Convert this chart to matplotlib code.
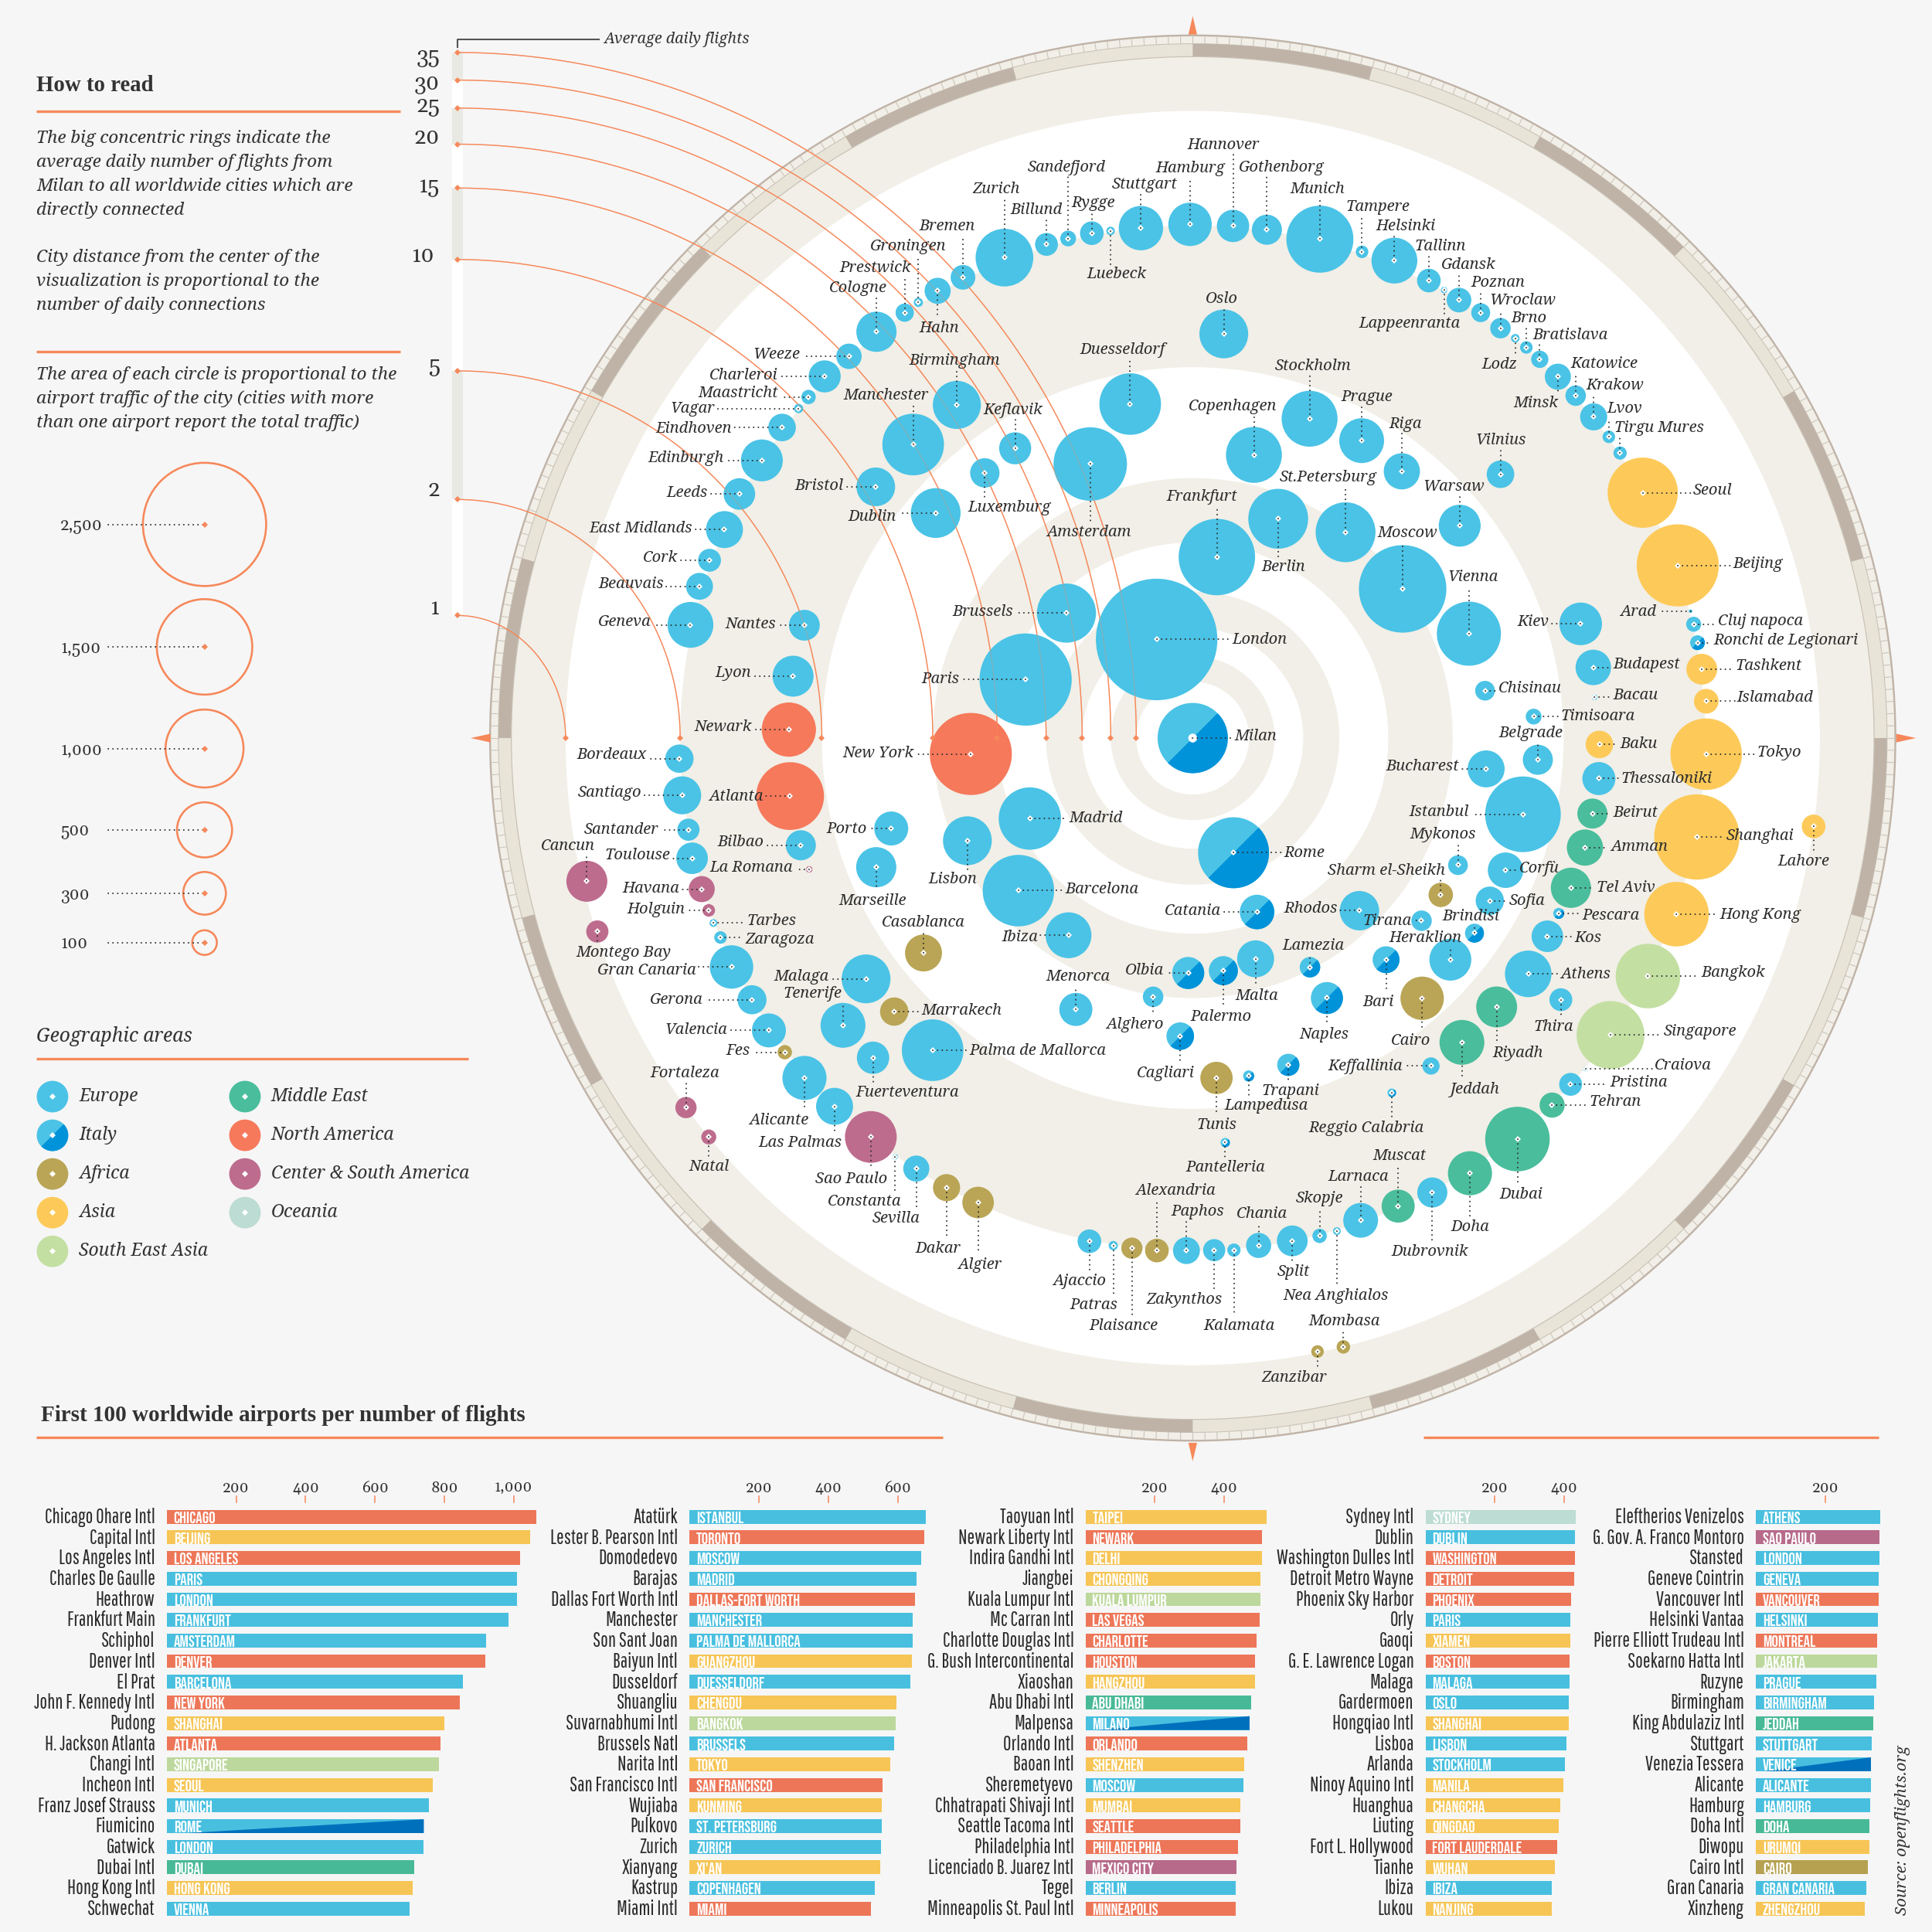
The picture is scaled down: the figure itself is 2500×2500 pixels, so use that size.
import numpy as np
import matplotlib
matplotlib.use("Agg")
import matplotlib.pyplot as plt
from matplotlib.patches import Circle, Wedge, Polygon, Rectangle
from matplotlib.collections import LineCollection

# ---- radial scale: average daily flights from Milan
flight_ticks = [1, 2, 5, 10, 15, 20, 25, 30, 35]
ring_radius = [509, 416, 301, 211, 158.7, 119, 89.7, 66.5, 45.8]

# ---- cities: bearing (deg clockwise from north), daily flights, airport traffic
europe_outer = ["Geneva","Beauvais","Cork","East Midlands","Leeds","Edinburgh","Eindhoven","Vagar","Maastricht","Charleroi","Weeze","Cologne","Prestwick","Groningen","Hahn","Bremen","Zurich","Billund","Sandefjord","Rygge","Luebeck","Stuttgart","Hamburg","Hannover","Gothenborg","Munich","Tampere","Helsinki","Tallinn","Lappeenranta","Gdansk","Poznan","Wroclaw","Lodz","Brno","Bratislava","Minsk","Katowice","Krakow","Lvov","Tirgu Mures","Arad","Cluj napoca","Craiova","Pristina","Dubrovnik","Larnaca","Nea Anghialos","Skopje","Split","Chania","Kalamata","Zakynthos","Paphos","Patras","Ajaccio","Sevilla","Constanta","Las Palmas","Alicante","Valencia","Gerona","Gran Canaria","Zaragoza","Tarbes","Toulouse","Santander","Santiago","Bordeaux"]
europe_outer_bearing = [282.7,287.1,290.2,294.0,298.3,302.8,307.1,309.9,311.6,314.5,318.0,322.1,325.9,327.8,330.3,333.5,338.6,343.5,346.0,348.7,350.8,354.2,359.7,4.5,8.3,14.3,19.2,22.9,27.3,29.3,31.3,34.1,36.9,38.9,40.5,42.5,45.3,48.2,51.3,54.1,56.3,75.7,77.2,130.1,132.5,152.2,160.8,163.7,165.7,168.8,172.6,175.4,177.6,180.7,188.9,191.6,212.7,215.4,224.2,228.8,235.4,239.3,243.6,247.1,248.9,256.5,259.7,263.6,267.7]
europe_outer_flights = [1.98,1.97,1.98,2.0,1.98,2.0,1.98,1.99,1.99,1.97,1.99,1.98,1.99,1.98,1.98,1.98,1.97,1.98,1.98,1.98,1.99,2.0,1.99,1.99,1.99,1.98,1.98,1.95,1.98,1.99,2.0,1.99,2.0,1.99,1.99,1.99,1.99,1.99,1.99,1.99,1.99,1.99,1.99,1.99,2.0,1.99,2.04,1.99,1.99,2.0,2.02,1.99,2.0,2.0,1.99,1.99,2.02,1.99,1.99,1.97,1.98,2.0,1.98,2.0,1.99,1.98,2.0,1.99,1.99]
europe_outer_traffic = [346,119,86,225,164,289,125,14,34,169,106,266,55,14,112,100,548,86,41,92,12,324,310,172,149,740,26,346,92,7,100,59,69,12,26,49,112,69,121,26,29,2,37,4,86,149,199,10,34,156,104,29,81,119,14,92,112,5,225,320,190,139,310,26,10,164,81,237,132]

europe_inner = ["Oslo","Duesseldorf","Amsterdam","Birmingham","Manchester","Keflavik","Luxemburg","Bristol","Dublin","Brussels","Paris","London","Nantes","Lyon","Bilbao","Porto","Marseille","Malaga","Tenerife","Fuerteventura","Palma de Mallorca","Lisbon","Madrid","Barcelona","Ibiza","Menorca","Malta","Alghero","Rhodos","Keffallinia","Heraklion","Tirana","Mykonos","Sofia","Corfù","Istanbul","Bucharest","Belgrade","Timisoara","Chisinau","Kiev","Budapest","Bacau","Thessaloniki","Kos","Athens","Thira","Vilnius","Warsaw","Moscow","Vienna","St.Petersburg","Berlin","Frankfurt","Copenhagen","Stockholm","Prague","Riga"]
europe_inner_bearing = [4.4,349.4,339.5,324.7,316.4,328.5,321.9,308.4,311.2,314.7,289.3,339.9,286.2,278.8,254.7,253.3,247.8,233.6,230.6,225.0,219.8,245.5,243.7,228.8,212.2,203.3,164.1,188.7,136.0,144.0,130.7,128.6,115.6,118.7,112.9,103.0,96.0,93.6,86.4,80.8,73.6,80.0,84.2,95.7,119.2,125.1,125.4,49.4,51.5,54.6,69.3,36.6,21.3,7.6,12.2,20.1,29.6,38.1]
europe_inner_flights = [4.27,6.4,8.53,4.21,4.27,6.4,6.53,4.29,6.32,16.83,16.89,25.97,4.29,4.29,4.25,7.53,6.31,4.26,3.27,3.28,4.25,10.96,16.42,12.2,12.09,8.4,12.36,9.92,11.55,4.27,6.4,8.52,8.46,6.45,6.41,6.44,8.42,6.13,6.32,8.37,4.29,4.24,4.3,4.21,4.25,4.17,3.29,4.27,6.34,10.19,8.41,10.28,11.91,16.32,8.66,6.39,6.3,6.44]
europe_inner_traffic = [392,625,888,380,625,169,142,246,408,576,1399,2430,156,276,149,190,266,392,331,172,625,392,640,841,346,180,225,69,256,49,289,69,64,132,207,942,225,149,41,64,299,207,5,180,164,357,86,125,289,1260,676,590,590,961,515,515,331,216]

italy = ["Rome","Catania","Olbia","Palermo","Lamezia","Naples","Cagliari","Lampedusa","Trapani","Pantelleria","Reggio Calabria","Bari","Brindisi","Pescara","Ronchi de Legionari"]
italy_bearing = [160.4,159.7,181.1,172.5,152.9,152.7,182.4,170.6,163.7,175.4,150.7,138.9,124.7,115.6,79.3]
italy_flights = [23.45,16.03,11.94,11.97,10.2,8.53,8.27,6.28,6.37,4.26,4.24,8.46,6.27,4.26,1.99]
italy_traffic = [829,196,169,139,69,169,125,20,81,14,12,119,59,20,36]

africa = ["Casablanca","Marrakech","Fes","Dakar","Algier","Tunis","Cairo","Sharm el-Sheikh","Alexandria","Plaisance","Mombasa","Zanzibar"]
africa_bearing = [231.4,227.5,232.4,208.7,204.8,176.0,138.6,122.3,184.0,186.8,166.1,168.5]
africa_flights = [6.19,4.28,1.98,2.0,2.02,6.36,6.08,8.49,1.99,1.99,1.0,1.01]
africa_traffic = [225,132,34,121,164,172,310,98,92,74,30,26]

asia = ["Seoul","Beijing","Tashkent","Islamabad","Baku","Tokyo","Shanghai","Hong Kong","Lahore"]
asia_bearing = [61.4,70.4,82.3,85.9,90.9,91.8,101.1,110.0,98.1]
asia_flights = [2.0,1.98,1.99,1.98,4.24,1.99,1.99,1.98,1.0]
asia_traffic = [812,1109,156,100,125,841,1197,686,92]

se_asia = ["Bangkok","Singapore"]
se_asia_bearing = [117.6,125.4]
se_asia_flights = [1.99,2.0]
se_asia_traffic = [686,756]

middle_east = ["Beirut","Amman","Tel Aviv","Riyadh","Jeddah","Tehran","Dubai","Doha","Muscat"]
middle_east_bearing = [100.7,105.6,111.6,131.5,138.5,135.6,141.0,147.5,156.3]
middle_east_flights = [4.24,4.23,4.24,4.26,4.25,1.99,1.97,1.97,2.03]
middle_east_traffic = [149,216,266,276,331,104,686,320,180]

north_america = ["Newark","New York","Atlanta"]
north_america_bearing = [271.2,265.9,261.8]
north_america_flights = [4.3,12.91,4.24]
north_america_traffic = [484,1109,756]

south_america = ["Cancun","Montego Bay","Havana","Holguin","La Romana","Fortaleza","Natal","Sao Paulo"]
south_america_bearing = [256.7,252.0,252.9,250.4,251.1,233.9,230.5,218.9]
south_america_flights = [1.04,1.01,1.99,1.99,4.27,1.0,1.0,2.0]
south_america_traffic = [276,81,112,26,7,74,37,441]

milan_traffic = 812

# ---- where each city's name goes: side, leader length, shift across the leader
label_place = {
 "Geneva":("l",30,-2.5),"Beauvais":("l",27,-2.5),"Cork":("l",24,-2.5),"East Midlands":("l",24,-1),"Leeds":("l",24,-1),"Edinburgh":("l",29,-2.5),"Eindhoven":("l",39,0.5),"Vagar":("l",66,0),"Maastricht":("l",23,-3.5),"Charleroi":("l",36,-1),"Weeze":("l",38,-2),
 "Cologne":("t",28,-15),"Prestwick":("t",29,-24),"Groningen":("t",38,-8),"Hahn":("b",22,1),"Bremen":("t",34,-13),"Zurich":("t",48,-7),"Billund":("t",20,-8),"Sandefjord":("t",50,-1),"Rygge":("t",17,1),"Luebeck":("b",27,5),"Stuttgart":("t",28,3),"Hamburg":("t",38,0),"Hannover":("t",58,-8),"Gothenborg":("t",43,12),"Munich":("t",33,-2),"Tampere":("t",29,13),"Helsinki":("t",20,9),"Tallinn":("t",20,9),"Lappeenranta":("b",19,-28),"Gdansk":("t",21,8),"Poznan":("t",17,14),"Wroclaw":("t",15,18),"Lodz":("b",13,-13),"Brno":("t",16,2),"Bratislava":("t",12,25),"Minsk":("b",13,-18),"Katowice":("t",18,23),"Krakow":("t",18,17),"Lvov":("t",15,13),"Tirgu Mures":("t",13,32),
 "Seoul":("r",39,-2),"Beijing":("r",43,-1.5),"Arad":("l",26,0),"Cluj napoca":("r",18,-3),"Ronchi de Legionari":("r",11,-2),"Tashkent":("r",25,-3),"Islamabad":("r",23,-3),"Budapest":("r",14,-2.5),"Kiev":("l",24,-2),"Bacau":("r",13,-2),"Chisinau":("r",9,-2),"Timisoara":("r",20,-0.5),
 "Vilnius":("t",20,0),"Warsaw":("t",24,-5),"Moscow":("t",38,4),"Vienna":("t",38,3),"St.Petersburg":("t",37,-14),"Berlin":("b",31,4),"Frankfurt":("t",41,-12),"Copenhagen":("t",32,-17),"Stockholm":("t",35,3),"Prague":("t",28,4),"Riga":("t",31,3),"Oslo":("t",21,-2),
 "Duesseldorf":("t",36,-6),"Amsterdam":("b",47,-1),"Birmingham":("t",28,-2),"Manchester":("t",32,-22),"Keflavik":("t",23,-2),"Luxemburg":("b",20,20),"Bristol":("l",24,-1),"Dublin":("l",30,2.5),"Brussels":("l",41,-1.5),"Paris":("l",52,-1),"London":("r",59,0),"Nantes":("l",21,-1),"Lyon":("l",32,-3),
 "Newark":("l",28,-2.5),"New York":("l",44,-1),"Bordeaux":("l",25,-3.5),"Santiago":("l",31,-2.5),"Atlanta":("l",20,0),"Santander":("l",22,-0.5),"Toulouse":("l",16,-3),"Bilbao":("l",28,-3),"La Romana":("l",11,-1.5),"Cancun":("t",21,-15),"Havana":("l",16,-1),"Holguin":("l",17,-1),"Tarbes":("r",25,-2),"Zaragoza":("r",18,1),"Montego Bay":("b",9,21),"Gran Canaria":("l",27,2.5),"Gerona":("l",38,-0.5),"Valencia":("l",32,-1),"Fes":("l",26,-1.5),"Alicante":("b",26,-21),"Fortaleza":("t",20,-1),"Natal":("b",16,0),"Las Palmas":("b",21,-28),"Sao Paulo":("b",26,-16),"Constanta":("b",28,-25),"Sevilla":("b",32,-16),"Dakar":("b",41,-7),"Algier":("b",42,1),"Ajaccio":("b",24,-8),"Patras":("b",40,-16),
 "Porto":("l",18,0),"Marseille":("b",19,-3),"Casablanca":("t",17,0),"Malaga":("l",28,-2),"Marrakech":("r",20,-1),"Tenerife":("t",18,-25),"Fuerteventura":("b",20,28),"Palma de Mallorca":("r",28,0),"Lisbon":("b",23,-12),"Madrid":("r",30,-0.5),"Barcelona":("r",36,-1.5),"Ibiza":("l",23,1),"Menorca":("t",19,2),
 "Milan":("r",32,-2),"Rome":("r",39,0),"Catania":("l",27,-1),"Rhodos":("l",16,-2),"Olbia":("l",18,-2.5),"Palermo":("b",29,-2),"Malta":("b",22,1),"Lamezia":("t",10,3),"Alghero":("b",14,-15),"Naples":("b",21,-2),"Cagliari":("b",22,-12),"Tunis":("b",30,0),"Lampedusa":("b",16,14),"Trapani":("b",13,2),"Pantelleria":("b",12,0),"Reggio Calabria":("b",20,-21),"Keffallinia":("l",21,0),"Jeddah":("b",30,10),"Cairo":("b",26,-9),"Bari":("b",26,-6),"Heraklion":("t",10,-20),"Brindisi":("t",6,-3),"Tirana":("l",6,0),"Sharm el-Sheikh":("t",12,-44),"Mykonos":("t",17,-12),"Sofia":("r",14,0),"Corfù":("r",9,-2),"Istanbul":("l",42,-2),"Bucharest":("l",20,-2.5),"Belgrade":("t",14,-6),"Baku":("r",15,-1),"Tokyo":("r",39,-2),"Thessaloniki":("r",16,0),"Beirut":("r",15,-1),"Shanghai":("r",22,-1),"Lahore":("b",20,-8),"Amman":("r",19,-1),"Tel Aviv":("r",19,-0.5),"Pescara":("r",17,1.5),"Hong Kong":("r",33,0),"Kos":("r",20,1),"Athens":("r",24,0),"Bangkok":("r",41,-3),"Thira":("b",14,-6),"Riyadh":("b",29,17),"Singapore":("r",41,-3),"Craiova":("r",54,-3),"Pristina":("r",30,-2),"Tehran":("r",28,-3),"Dubai":("b",37,3),"Doha":("b",35,0),"Dubrovnik":("b",40,-2),"Muscat":("t",33,1),"Larnaca":("t",28,-2),"Skopje":("t",23,0),"Nea Anghialos":("b",44,-1),"Split":("b",17,1),"Chania":("t",18,3),"Kalamata":("b",53,4),"Zakynthos":("b",32,-24),"Paphos":("t",24,9),"Alexandria":("t",41,15),"Plaisance":("b",55,-7),"Mombasa":("t",13,1),"Zanzibar":("b",13,-19),
}

# ---- how to read legend
size_values = [2500, 1500, 1000, 500, 300, 100]
size_labels = ["2,500", "1,500", "1,000", "500", "300", "100"]
size_y = [425.6, 525, 607.5, 673.5, 725, 765]
rail_y = [499.5, 405.4, 301, 210.6, 152.6, 117, 87.7, 65, 42.6]
rail_label_y = [494, 397.5, 297, 208, 151, 111.5, 86, 68, 46]

area_names = ["Europe", "Italy", "Africa", "Asia", "South East Asia", "Middle East", "North America", "Center & South America", "Oceania"]
area_codes = ["E", "I", "F", "A", "S", "M", "N", "C", "O"]

# ---- first 100 airports
airports_1 = ["Chicago Ohare Intl","Capital Intl","Los Angeles Intl","Charles De Gaulle","Heathrow","Frankfurt Main","Schiphol","Denver Intl","El Prat","John F. Kennedy Intl","Pudong","H. Jackson Atlanta","Changi Intl","Incheon Intl","Franz Josef Strauss","Fiumicino","Gatwick","Dubai Intl","Hong Kong Intl","Schwechat"]
cities_1 = ["CHICAGO","BEIJING","LOS ANGELES","PARIS","LONDON","FRANKFURT","AMSTERDAM","DENVER","BARCELONA","NEW YORK","SHANGHAI","ATLANTA","SINGAPORE","SEOUL","MUNICH","ROME","LONDON","DUBAI","HONG KONG","VIENNA"]
flights_1 = [1066,1047,1018,1009,1009,984,920,919,853,844,801,789,785,766,755,741,739,714,709,700]
regions_1 = "NANEEEENENANSAEIEMAE"

airports_2 = ["Atatürk","Lester B. Pearson Intl","Domodedevo","Barajas","Dallas Fort Worth Intl","Manchester","Son Sant Joan","Baiyun Intl","Dusseldorf","Shuangliu","Suvarnabhumi Intl","Brussels Natl","Narita Intl","San Francisco Intl","Wujiaba","Pulkovo","Zurich","Xianyang","Kastrup","Miami Intl"]
cities_2 = ["ISTANBUL","TORONTO","MOSCOW","MADRID","DALLAS-FORT WORTH","MANCHESTER","PALMA DE MALLORCA","GUANGZHOU","DUESSELDORF","CHENGDU","BANGKOK","BRUSSELS","TOKYO","SAN FRANCISCO","KUNMING","ST. PETERSBURG","ZURICH","XI'AN","COPENHAGEN","MIAMI"]
flights_2 = [681,677,668,654,649,642,642,640,636,597,594,590,578,556,554,553,551,549,533,522]
regions_2 = "ENEENEEAEASEANAEEAEN"

airports_3 = ["Taoyuan Intl","Newark Liberty Intl","Indira Gandhi Intl","Jiangbei","Kuala Lumpur Intl","Mc Carran Intl","Charlotte Douglas Intl","G. Bush Intercontinental","Xiaoshan","Abu Dhabi Intl","Malpensa","Orlando Intl","Baoan Intl","Sheremetyevo","Chhatrapati Shivaji Intl","Seattle Tacoma Intl","Philadelphia Intl","Licenciado B. Juarez Intl","Tegel","Minneapolis St. Paul Intl"]
cities_3 = ["TAIPEI","NEWARK","DELHI","CHONGQING","KUALA LUMPUR","LAS VEGAS","CHARLOTTE","HOUSTON","HANGZHOU","ABU DHABI","MILANO","ORLANDO","SHENZHEN","MOSCOW","MUMBAI","SEATTLE","PHILADELPHIA","MEXICO CITY","BERLIN","MINNEAPOLIS"]
flights_3 = [522,508,508,505,505,501,494,489,489,478,473,467,458,455,446,446,439,435,434,434]
regions_3 = "ANAASNNNAMINAEANNCEN"

airports_4 = ["Sydney Intl","Dublin","Washington Dulles Intl","Detroit Metro Wayne","Phoenix Sky Harbor","Orly","Gaoqi","G. E. Lawrence Logan","Malaga","Gardermoen","Hongqiao Intl","Lisboa","Arlanda","Ninoy Aquino Intl","Huanghua","Liuting","Fort L. Hollywood","Tianhe","Ibiza","Lukou"]
cities_4 = ["SYDNEY","DUBLIN","WASHINGTON","DETROIT","PHOENIX","PARIS","XIAMEN","BOSTON","MALAGA","OSLO","SHANGHAI","LISBON","STOCKHOLM","MANILA","CHANGCHA","QINGDAO","FORT LAUDERDALE","WUHAN","IBIZA","NANJING"]
flights_4 = [434,430,430,428,419,418,418,416,414,412,412,407,402,398,389,384,379,373,364,363]
regions_4 = "OENNNEANEEAEEAAANAEA"

airports_5 = ["Eleftherios Venizelos","G. Gov. A. Franco Montoro","Stansted","Geneve Cointrin","Vancouver Intl","Helsinki Vantaa","Pierre Elliott Trudeau Intl","Soekarno Hatta Intl","Ruzyne","Birmingham","King Abdulaziz Intl","Stuttgart","Venezia Tessera","Alicante","Hamburg","Doha Intl","Diwopu","Cairo Intl","Gran Canaria","Xinzheng"]
cities_5 = ["ATHENS","SAO PAULO","LONDON","GENEVA","VANCOUVER","HELSINKI","MONTREAL","JAKARTA","PRAGUE","BIRMINGHAM","JEDDAH","STUTTGART","VENICE","ALICANTE","HAMBURG","DOHA","URUMQI","CAIRO","GRAN CANARIA","ZHENGZHOU"]
flights_5 = [359,357,357,355,354,352,350,350,347,341,339,334,332,331,329,327,327,323,318,315]
regions_5 = "ECEENENSEEMEIEEMAFEA"

bar_ticks_1 = [200, 400, 600, 800, 1000]
bar_ticks_2 = [200, 400, 600]
bar_ticks_3 = [200, 400]
bar_ticks_4 = [200, 400]
bar_ticks_5 = [200]

# ---- styles
BG = "#f6f6f6"
BEIGE = "#f1efe7"
ORANGE = "#f6885a"
INK = "#333333"
DARK_ITALY = "#0093d9"
bubble_color = {"E":"#4ac3e6","I":"#4ac3e6","F":"#b9a555","A":"#fdca5a","S":"#c4dfa2","M":"#4abd9c","N":"#f6795b","C":"#bd6c8e","O":"#bddcd3"}
bar_color = {"E":"#48bfdf","I":"#48bfdf","F":"#b5a150","A":"#f6c555","S":"#bcd89c","M":"#48b996","N":"#ed7658","C":"#b76a8a","O":"#bddcd3"}
SERIF = ["Noto Serif", "Liberation Serif"]
HEAD = "Liberation Serif"
DIGITS = ["Gelasio", "Liberation Serif"]
NARROW = ["Pathway Gothic One", "Barlow Condensed", "DejaVu Sans"]
BARFONT = ["Bebas Neue", "Barlow Condensed", "DejaVu Sans"]
CX, CY = 968, 599
LABEL_FS = 5.8
DOTS = (0, (0.1, 3.1))

fig = plt.figure(figsize=(10, 10), dpi=250, facecolor=BG)
ax = fig.add_axes([0, 0, 1, 1])
ax.set_xlim(0, 1568)
ax.set_ylim(1568, 0)
ax.axis("off")


def radius_of(f):
    return np.interp(f, flight_ticks, ring_radius)


# ---- dial
ax.add_patch(Circle((CX, CY), 571, fc="#c0b3a7", ec="none", zorder=1))
ax.add_patch(Circle((CX, CY), 569.5, fc=BEIGE, ec="none", zorder=1))
ax.add_patch(Circle((CX, CY), 563.5, fc="#e8e4d8", ec="#c9c1b6", lw=0.3, zorder=1))
for start in range(0, 360, 30):
    ax.add_patch(Wedge((CX, CY), 563.5, start - 90, start - 75, width=10.5, fc="#bfb3a8", ec="none", zorder=1.1))
ax.add_patch(Circle((CX, CY), 553, fc=BEIGE, ec="#c9c1b6", lw=0.35, zorder=1.2))
ang = np.radians(np.arange(0, 360, 1.0))
segs = [[(CX + 563.5 * np.sin(a), CY - 563.5 * np.cos(a)), (CX + 569.5 * np.sin(a), CY - 569.5 * np.cos(a))] for a in ang]
ax.add_collection(LineCollection(segs, colors="#cbc3b8", linewidths=0.3, zorder=1.3))

for i, rad in enumerate(ring_radius):
    ax.add_patch(Circle((CX, CY), rad, fc="white" if i % 2 == 0 else BEIGE, ec="none", zorder=2 + i * 0.01))

for tri in ([(968, 13), (964.5, 28), (971.5, 28)], [(968, 1186), (964.5, 1171), (971.5, 1171)],
            [(382, 599), (398, 595.5), (398, 602.5)], [(1555, 599), (1539, 595.5), (1539, 602.5)]):
    ax.add_patch(Polygon(tri, fc=ORANGE, ec="none", zorder=3))

# ---- rail with the flight scale and the curves to the rings
for i in range(len(rail_y) - 1):
    ax.add_patch(Rectangle((367, rail_y[i + 1]), 8.5, rail_y[i] - rail_y[i + 1],
                           fc="white" if i % 2 == 0 else "#e9e9e3", ec="none", zorder=2))
t = np.linspace(0, np.pi / 2, 120)
for ft, rad, y0, ly in zip(flight_ticks, ring_radius, rail_y, rail_label_y):
    xe = CX - rad
    xs = 371 + (xe - 371) * np.sin(t)
    ys = CY - (CY - y0) * np.cos(t)
    ax.plot(xs, ys, color=ORANGE, lw=0.4, zorder=3.5)
    ax.plot(xs, ys, color=ORANGE, lw=0.4, alpha=0.3, zorder=7)
    ax.plot([371, xe], [y0, CY], ls="none", marker="D", ms=1.5, color=ORANGE, mew=0, zorder=7)
    ax.text(353 if ft == 10 else 357, ly, str(ft), family=DIGITS, fontsize=8.2, color=INK, ha="right", va="center", zorder=8)
ax.plot([371, 371, 486], [38, 32, 32], color="#555555", lw=0.6, zorder=3)
ax.text(490, 32, "Average daily flights", family=SERIF, style="italic", fontsize=5.7, color=INK, va="center")


# ---- bubbles
def draw_city(name, bearing, flights, traffic, code):
    b = np.radians(bearing)
    rad = radius_of(flights)
    x, y = CX + rad * np.sin(b), CY - rad * np.cos(b)
    place_city(name, x, y, np.sqrt(traffic), code)


def place_city(name, x, y, r, code):
    ax.add_patch(Circle((x, y), r, fc=bubble_color[code], ec="none", zorder=5))
    if code == "I":
        ax.add_patch(Wedge((x, y), r, -45, 135, fc=DARK_ITALY, ec="none", zorder=5.1))
    if name == "Milan":
        ax.add_patch(Circle((x, y), 3.6, fc="white", ec="none", zorder=6))
    elif r > 1.5:
        ax.plot([x], [y], marker="D", ms=1.7, color="white", mew=0, zorder=6)
    side, lead, shift = label_place[name]
    if side == "l":
        end = (x - lead, y)
        txt = (end[0] - 2, y + 0.5 + shift)
        ha = "right"
    elif side == "r":
        end = (x + lead, y)
        txt = (end[0] + 2, y + 0.5 + shift)
        ha = "left"
    elif side == "t":
        end = (x, y - lead)
        txt = (x + shift, end[1] - 7.5)
        ha = "center"
    else:
        end = (x, y + lead)
        txt = (x + shift, end[1] + 8.5)
        ha = "center"
    ax.plot([x, end[0]], [y, end[1]], color="#2b2b2b", lw=0.55, ls=DOTS, dash_capstyle="round", zorder=6)
    ax.text(txt[0], txt[1], name, family=SERIF, style="italic", fontsize=LABEL_FS, color="#2e2e2e", ha=ha, va="center", zorder=8)


groups = [
    (europe_outer, europe_outer_bearing, europe_outer_flights, europe_outer_traffic, "E"),
    (europe_inner, europe_inner_bearing, europe_inner_flights, europe_inner_traffic, "E"),
    (italy, italy_bearing, italy_flights, italy_traffic, "I"),
    (africa, africa_bearing, africa_flights, africa_traffic, "F"),
    (asia, asia_bearing, asia_flights, asia_traffic, "A"),
    (se_asia, se_asia_bearing, se_asia_flights, se_asia_traffic, "S"),
    (middle_east, middle_east_bearing, middle_east_flights, middle_east_traffic, "M"),
    (north_america, north_america_bearing, north_america_flights, north_america_traffic, "N"),
    (south_america, south_america_bearing, south_america_flights, south_america_traffic, "C"),
]
for names, bearings, flights, traffic, code in groups:
    for n, b, f, tr in zip(names, bearings, flights, traffic, strict=True):
        draw_city(n, b, f, tr, code)
place_city("Milan", CX, CY, np.sqrt(milan_traffic), "I")

# ---- left column
ax.text(29.5, 69.5, "How to read", family=HEAD, weight="bold", fontsize=8.3, color=INK, va="center")
ax.plot([29.5, 325], [90.5, 90.5], color=ORANGE, lw=0.95, solid_capstyle="butt")
body = [(112.5, "The big concentric rings indicate the"), (131.8, "average daily number of flights from"),
        (151, "Milan to all worldwide cities which are"), (170.5, "directly connected"),
        (209, "City distance from the center of the"), (228.5, "visualization is proportional to the"),
        (247.8, "number of daily connections"),
        (304, "The area of each circle is proportional to the"), (323.5, "airport traffic of the city (cities with more"),
        (343, "than one airport report the total traffic)")]
for y, line in body:
    ax.text(29.5, y, line, family=SERIF, style="italic", fontsize=6.5, color=INK, va="center")
ax.plot([29.5, 325], [285.6, 285.6], color=ORANGE, lw=0.95, solid_capstyle="butt")

for val, lab, y in zip(size_values, size_labels, size_y):
    ax.add_patch(Circle((166, y), np.sqrt(val), fc="none", ec=ORANGE, lw=0.75))
    ax.plot([88, 166], [y, y], color="#2b2b2b", lw=0.55, ls=DOTS, dash_capstyle="round")
    ax.plot([166], [y], marker="D", ms=1.7, color=ORANGE, mew=0)
    ax.text(49, y + 1, lab, family=DIGITS, fontsize=6.1, color=INK, va="center")

ax.text(29.5, 841, "Geographic areas", family=SERIF, style="italic", fontsize=7.1, color=INK, va="center")
ax.plot([29.5, 380], [859.5, 859.5], color=ORANGE, lw=0.95, solid_capstyle="butt")
for i, (name, code) in enumerate(zip(area_names, area_codes)):
    col = 0 if i < 5 else 1
    row = i if i < 5 else i - 5
    x = 42.6 if col == 0 else 198.8
    y = 890 + row * 31.4
    ax.add_patch(Circle((x, y), 12.8, fc=bubble_color[code], ec="none"))
    if code == "I":
        ax.add_patch(Wedge((x, y), 12.8, -45, 135, fc=DARK_ITALY, ec="none"))
    ax.plot([x], [y], marker="D", ms=1.7, color="white", mew=0, zorder=4)
    ax.text(64 if col == 0 else 220, y, name, family=SERIF, style="italic", fontsize=6.6, color=INK, va="center")

# ---- bar panels
ax.text(33, 1148.5, "First 100 worldwide airports per number of flights", family=HEAD, weight="bold", fontsize=8.4, color=INK, va="center")
ax.plot([29.5, 765], [1166.5, 1166.5], color=ORANGE, lw=0.95, solid_capstyle="butt")
ax.plot([1155, 1525], [1166.5, 1166.5], color=ORANGE, lw=0.95, solid_capstyle="butt")

SCALE = 0.2815
panels = [
    (135.4, airports_1, cities_1, flights_1, regions_1, bar_ticks_1),
    (559.7, airports_2, cities_2, flights_2, regions_2, bar_ticks_2),
    (881, airports_3, cities_3, flights_3, regions_3, bar_ticks_3),
    (1157, airports_4, cities_4, flights_4, regions_4, bar_ticks_4),
    (1425, airports_5, cities_5, flights_5, regions_5, bar_ticks_5),
]
for x0, airports, cities, flights, regions, ticks in panels:
    for tk in ticks:
        xt = x0 + tk * SCALE
        ax.plot([xt, xt], [1214.5, 1219.5], color=ORANGE, lw=0.45)
        ax.text(xt, 1207.7, f"{tk:,}", family=DIGITS, fontsize=5.6, color=INK, ha="center", va="center")
    for i, (air, city, val, code) in enumerate(zip(airports, cities, flights, regions, strict=True)):
        y = 1231 + i * 16.74
        w = val * SCALE
        ax.add_patch(Rectangle((x0, y - 5.6), w, 11.2, fc=bar_color[code], ec="none", zorder=2))
        if code == "I":
            ax.add_patch(Polygon([(x0 + 0.08 * w, y + 5.6), (x0 + w, y - 5.6), (x0 + w, y + 5.6)], fc="#0070bd", ec="none", zorder=2.1))
        ax.text(x0 - 9.5, y + 0.5, air, family=NARROW, fontsize=7.4, color="#2a2a2a", ha="right", va="center")
        ax.text(x0 + 5.5, y + 0.5, city, family=BARFONT, fontsize=6.1, color="white", va="center", zorder=3)

ax.text(1544, 1554, "Source: openflights.org", family=SERIF, style="italic", fontsize=5.9, color=INK, rotation=90, ha="center", va="bottom")

fig.savefig("out.png", dpi=250, facecolor=BG)
